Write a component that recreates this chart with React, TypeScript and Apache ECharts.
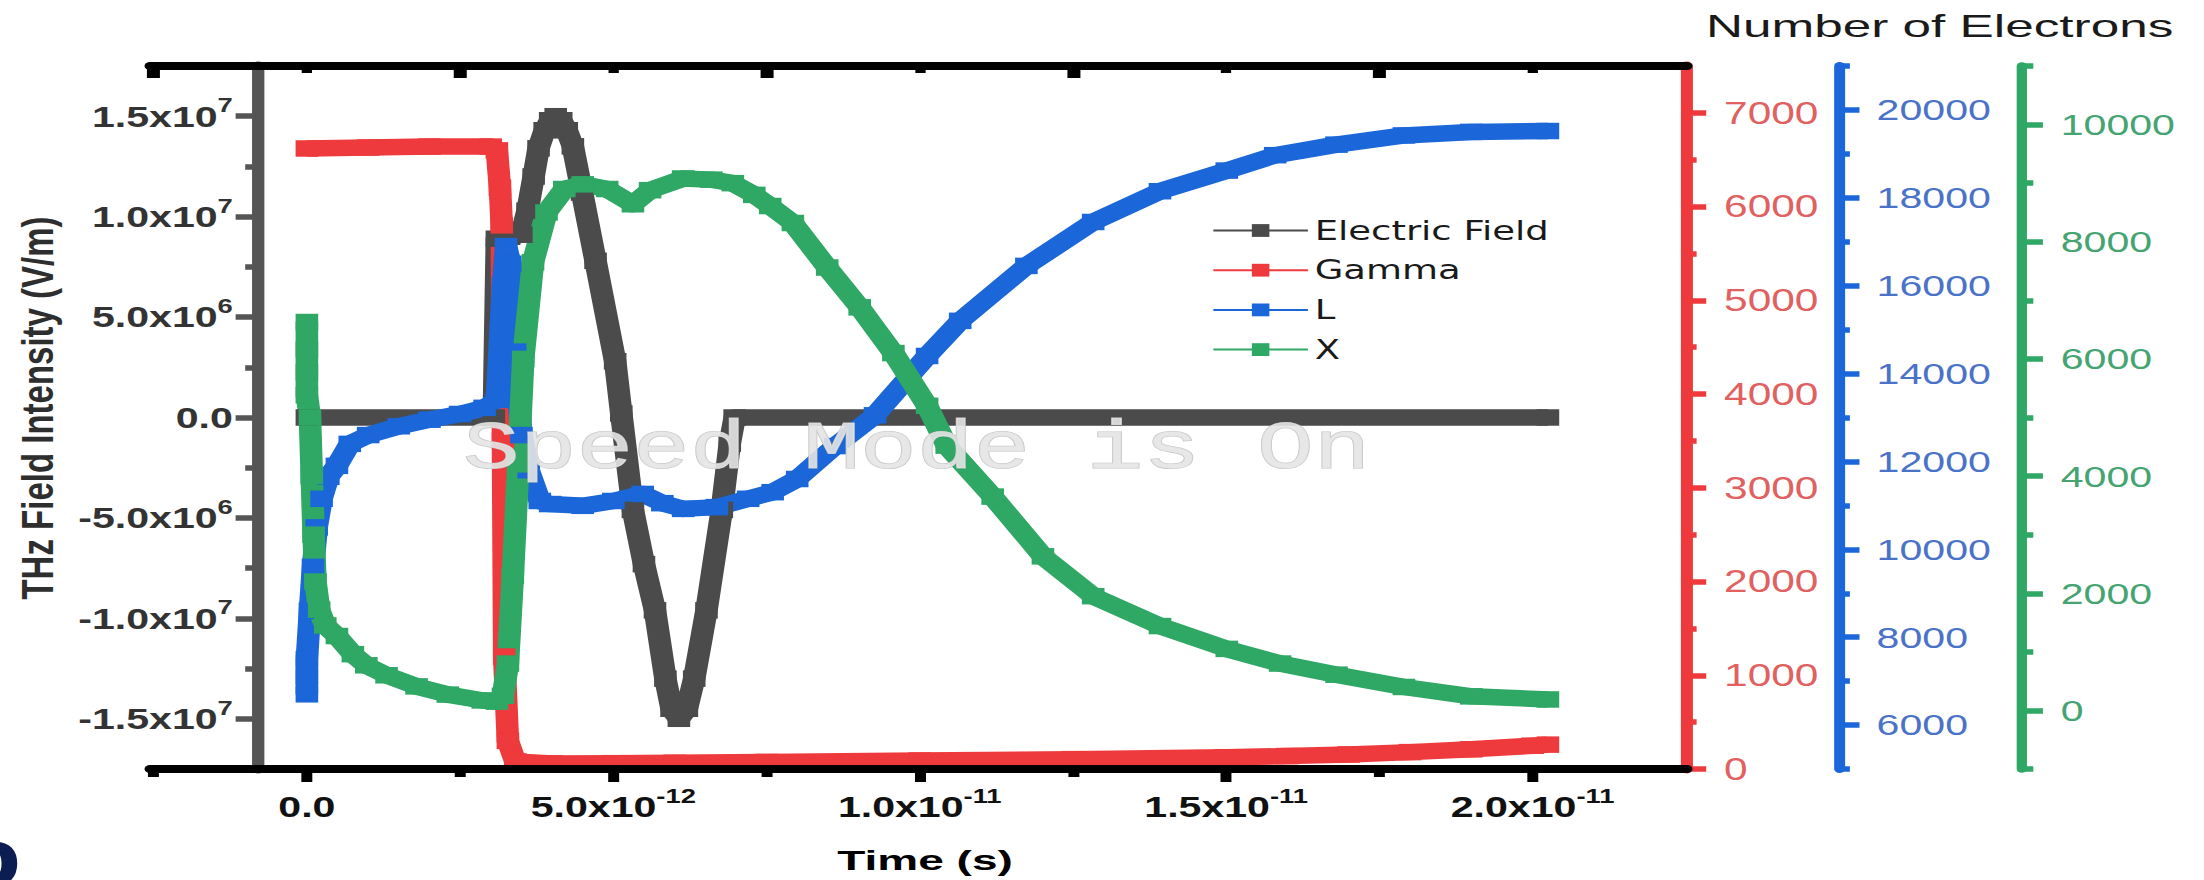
import { useEffect, useRef } from 'react';
import * as echarts from 'echarts';

const CHART_W = 1609;
const CHART_H = 880;
const STRETCH = 2204 / CHART_W;

// ---- data (time in picoseconds) ----
const fieldTime = [0, 3.05, 3.1, 3.3, 3.5, 3.6, 3.7, 3.78, 3.88, 3.97, 4.06, 4.15, 4.24, 4.34, 4.49, 4.71, 5.03, 5.13, 5.32, 5.5, 5.68, 5.85, 5.95, 6.07, 6.2, 6.32, 6.52, 6.77, 6.9, 6.98, 20.25];
const fieldValue = [0, 0, 8.9e6, 9.0e6, 9.1e6, 10.3e6, 12.0e6, 13.4e6, 14.3e6, 14.8e6, 15.0e6, 14.8e6, 14.3e6, 13.5e6, 11.2e6, 7.8e6, 2.8e6, 0.2e6, -4.6e6, -7.3e6, -9.6e6, -13.0e6, -14.5e6, -15.0e6, -14.5e6, -13.0e6, -9.6e6, -4.6e6, -1.3e6, 0, 0];

const gammaTime = [0, 1, 2, 3.0, 3.1, 3.15, 3.18, 3.2, 3.22, 3.28, 3.4, 4, 5, 6, 7.5, 10, 12.5, 15, 16, 17, 18, 19, 20, 20.25];
const gammaValue = [6620, 6630, 6640, 6640, 6600, 6200, 5800, 3500, 1200, 300, 80, 60, 62, 66, 75, 90, 105, 125, 138, 155, 180, 210, 248, 260];

const lTime = [0, 0, 0, 0.05, 0.1, 0.16, 0.24, 0.35, 0.49, 0.7, 1.0, 1.5, 2.0, 2.5, 2.9, 3.1, 3.2, 3.25, 3.32, 3.4, 3.5, 3.62, 3.8, 3.97, 4.5, 5.0, 5.48, 5.8, 6.14, 6.69, 7.2, 7.6, 8.0, 8.62, 9.27, 10.12, 10.66, 11.74, 12.83, 13.92, 15.01, 15.8, 16.8, 17.9, 19.0, 20.25];
const lValue = [6700, 7100, 7500, 8600, 9600, 10500, 11150, 11650, 11900, 12400, 12600, 12800, 12950, 13080, 13220, 13400, 16000, 16900, 16500, 14500, 12600, 11800, 11100, 11030, 10990, 11100, 11260, 11050, 10920, 10960, 11150, 11300, 11600, 12350, 13050, 14400, 15200, 16450, 17450, 18150, 18620, 18970, 19210, 19420, 19500, 19520];

const xPopTime = [0, 0, 0, 0, 0.05, 0.08, 0.11, 0.14, 0.2, 0.3, 0.49, 0.75, 0.97, 1.3, 1.79, 2.3, 2.87, 3.1, 3.2, 3.28, 3.36, 3.45, 3.53, 3.69, 3.91, 4.2, 4.5, 4.9, 5.32, 5.6, 6.14, 6.6, 6.95, 7.3, 7.56, 7.93, 8.49, 9.02, 9.57, 10.12, 10.44, 11.19, 12.01, 12.83, 13.92, 15.01, 15.88, 16.8, 17.9, 19.0, 20.25];
const xPopValue = [6630, 6160, 5770, 5380, 5000, 4000, 3000, 2200, 1720, 1450, 1270, 960, 770, 600, 410, 270, 170, 150, 250, 800, 2300, 4200, 6000, 7650, 8500, 8900, 8980, 8900, 8640, 8880, 9080, 9060, 9000, 8800, 8610, 8320, 7560, 6880, 6100, 5200, 4520, 3650, 2630, 1950, 1440, 1050, 800, 610, 400, 240, 187];

// ---- ticks ----
const timeTickValues = [0, 5, 10, 15, 20];
const timeTickMantissa = ['0.0', '5.0x10', '1.0x10', '1.5x10', '2.0x10'];
const timeTickExponent = ['', '-12', '-11', '-11', '-11'];
const timeMinorTicks = [-2.5, 2.5, 7.5, 12.5, 17.5];

const fieldTickValues = [-1.5e7, -1e7, -5e6, 0, 5e6, 1e7, 1.5e7];
const fieldTickMantissa = ['-1.5x10', '-1.0x10', '-5.0x10', '0.0', '5.0x10', '1.0x10', '1.5x10'];
const fieldTickExponent = ['7', '7', '6', '', '6', '7', '7'];
const fieldMinorTicks = [-1.25e7, -7.5e6, -2.5e6, 2.5e6, 7.5e6, 1.25e7];

const gammaTickValues = [0, 1000, 2000, 3000, 4000, 5000, 6000, 7000];
const gammaMinorTicks = [500, 1500, 2500, 3500, 4500, 5500, 6500];
const lTickValues = [6000, 8000, 10000, 12000, 14000, 16000, 18000, 20000];
const lMinorTicks = [5000, 7000, 9000, 11000, 13000, 15000, 17000, 19000, 21000];
const xPopTickValues = [0, 2000, 4000, 6000, 8000, 10000];
const xPopMinorTicks = [-1000, 1000, 3000, 5000, 7000, 9000, 11000];

const seriesNames = ['Electric Field', 'Gamma', 'L', 'X'];
const seriesColors = ['#4b4b4b', '#ee3a3c', '#1b67d9', '#2fa765'];

const pairs = (ts: number[], vs: number[]) => ts.map((t, i) => [t, vs[i]]);

const sciFormatter = (values: number[], mant: string[], exp: string[]) => (v: number) => {
  const i = values.findIndex((x) => Math.abs(x - v) <= Math.abs(x) * 1e-6 + 1e-9);
  if (i < 0) return '';
  return exp[i] ? `{m|${mant[i]}}{s|${exp[i]}}` : `{m|${mant[i]}}`;
};

const richFor = (color: string) => ({
  m: { fontFamily: 'Liberation Sans', fontWeight: 'bold', fontSize: 30, lineHeight: 42, color },
  s: { fontFamily: 'Liberation Sans', fontWeight: 'bold', fontSize: 20, lineHeight: 20, verticalAlign: 'top', color },
});

const plainFormatter = (v: number) => String(Math.round(v));

function buildOption() {
  const xMin = -2.56;
  const xMax = 22.52;
  const xCommon = { type: 'value', min: xMin, max: xMax, splitLine: { show: false }, z: 4 };

  const xAxis = [
    {
      ...xCommon,
      position: 'bottom',
      axisLine: { onZero: false, lineStyle: { color: '#000', width: 8 } },
      axisTick: { customValues: timeTickValues, length: 13, lineStyle: { color: '#000', width: 8 } },
      axisLabel: {
        customValues: timeTickValues,
        formatter: sciFormatter(timeTickValues, timeTickMantissa, timeTickExponent),
        rich: richFor('#111'),
        margin: 17,
      },
    },
    {
      ...xCommon,
      position: 'bottom',
      axisLine: { show: false, onZero: false },
      axisTick: { customValues: timeMinorTicks, length: 8, lineStyle: { color: '#000', width: 8 } },
      axisLabel: { show: false },
    },
    {
      ...xCommon,
      position: 'top',
      axisLine: { onZero: false, lineStyle: { color: '#000', width: 8 } },
      axisTick: { inside: true, customValues: timeMinorTicks, length: 12, lineStyle: { color: '#000', width: 9.5 } },
      axisLabel: { show: false },
    },
    {
      ...xCommon,
      position: 'top',
      axisLine: { show: false, onZero: false },
      axisTick: { inside: true, customValues: timeTickValues, length: 7, lineStyle: { color: '#000', width: 7.5 } },
      axisLabel: { show: false },
    },
  ];

  const yAxisPair = (
    min: number, max: number, position: string, offset: number, color: string, lineW: number,
    major: number[], minor: number[], majorLen: number, minorLen: number, label: any,
  ) => [
    {
      type: 'value', min, max, position, offset, z: 3,
      splitLine: { show: false },
      axisLine: { show: true, onZero: false, lineStyle: { color, width: lineW } },
      axisTick: { customValues: major, length: majorLen, lineStyle: { color, width: 5.5 } },
      axisLabel: label,
    },
    {
      type: 'value', min, max, position, offset, z: 3,
      splitLine: { show: false },
      axisLine: { show: false, onZero: false },
      axisTick: { customValues: minor, length: minorLen, lineStyle: { color, width: 5.5 } },
      axisLabel: { show: false },
    },
  ];

  const yAxis = [
    ...yAxisPair(-1.75e7, 1.75e7, 'left', -78.5, '#555', 9, fieldTickValues, fieldMinorTicks, 16, 9, {
      customValues: fieldTickValues,
      formatter: sciFormatter(fieldTickValues, fieldTickMantissa, fieldTickExponent),
      rich: richFor('#333'),
      margin: 18,
    }),
    ...yAxisPair(0, 7500, 'right', 0, '#ee3a3c', 8.8, gammaTickValues, gammaMinorTicks, 14, 7, {
      customValues: gammaTickValues, formatter: plainFormatter,
      color: '#e0615f', fontFamily: 'Liberation Sans', fontSize: 31, margin: 27,
    }),
    ...yAxisPair(5000, 21000, 'right', 110.9, '#1b67d9', 8, lTickValues, lMinorTicks, 15, 8, {
      customValues: lTickValues, formatter: plainFormatter,
      color: '#4a73c8', fontFamily: 'Liberation Sans', fontSize: 30, margin: 27.5,
    }),
    ...yAxisPair(-1000, 11000, 'right', 243.8, '#2fa765', 7.5, xPopTickValues, xPopMinorTicks, 16, 9, {
      customValues: xPopTickValues, formatter: plainFormatter,
      color: '#45a472', fontFamily: 'Liberation Sans', fontSize: 30, margin: 29,
    }),
  ];

  const datasets = [
    pairs(fieldTime, fieldValue),
    pairs(gammaTime, gammaValue),
    pairs(lTime, lValue),
    pairs(xPopTime, xPopValue),
  ];
  const yIndex = [0, 2, 4, 6];

  const series = seriesNames.map((name, i) => ({
    name,
    type: 'line',
    xAxisIndex: 0,
    yAxisIndex: yIndex[i],
    data: datasets[i],
    symbol: 'rect',
    symbolSize: 16.5,
    showSymbol: true,
    lineStyle: { color: seriesColors[i], width: 16.5, join: 'round' },
    itemStyle: { color: seriesColors[i] },
    z: 2,
    silent: true,
  }));

  const titleFont = 'Liberation Sans';
  return {
    animation: false,
    backgroundColor: '#ffffff',
    grid: { left: 109.5, right: CHART_W - 1231.6, top: 66, bottom: CHART_H - 769, containLabel: false, outerBoundsMode: 'none' },
    legend: {
      data: seriesNames,
      orient: 'vertical',
      left: 884.8,
      top: 217,
      padding: 0,
      itemWidth: 69,
      itemHeight: 16,
      itemGap: 12.7,
      lineStyle: { width: 2 },
      textStyle: { fontFamily: 'DejaVu Sans', fontSize: 27, color: '#1a1a1a', lineHeight: 20 },
    },
    xAxis,
    yAxis,
    series,
    graphic: [
      {
        type: 'text', x: 27, y: 408, rotation: Math.PI / 2,
        style: { text: 'THz Field Intensity (V/m)', fontFamily: titleFont, fontWeight: 'bold', fontSize: 33, fill: '#2e2e2e', align: 'center', verticalAlign: 'middle', textAlign: 'center', textVerticalAlign: 'middle' },
      },
      {
        type: 'text', x: 675.3, y: 860, scaleX: 1.2,
        style: { text: 'Time (s)', fontFamily: titleFont, fontWeight: 'bold', fontSize: 28, fill: '#000', align: 'center', verticalAlign: 'middle', textAlign: 'center', textVerticalAlign: 'middle' },
      },
      {
        type: 'text', x: 1416, y: 26, scaleX: 1.17,
        style: { text: 'Number of Electrons', fontFamily: titleFont, fontSize: 32, fill: '#1a1a1a', align: 'center', verticalAlign: 'middle', textAlign: 'center', textVerticalAlign: 'middle' },
      },
      {
        type: 'text', x: 338, y: 450, z: 100,
        style: { text: 'Speed Mode is On', fontFamily: 'Liberation Mono', fontSize: 69, fill: 'rgba(228,228,228,0.9)', stroke: '#c6c6c6', lineWidth: 1.2, align: 'left', verticalAlign: 'middle', textAlign: 'left', textVerticalAlign: 'middle' },
      },
      {
        type: 'text', x: -33, y: 897,
        style: { text: 'b', fontFamily: titleFont, fontWeight: 'bold', fontSize: 80, fill: '#0b1d51', align: 'left', verticalAlign: 'bottom', textAlign: 'left', textVerticalAlign: 'bottom' },
      },
    ],
  };
}

export default function App() {
  const ref = useRef<HTMLDivElement>(null);
  useEffect(() => {
    if (!ref.current) return;
    const chart = echarts.init(ref.current, null, { renderer: 'svg' });
    chart.setOption(buildOption() as any);
    return () => chart.dispose();
  }, []);
  return (
    <div
      ref={ref}
      style={{
        position: 'absolute',
        left: 0,
        top: 0,
        width: CHART_W,
        height: CHART_H,
        transform: `scaleX(${STRETCH})`,
        transformOrigin: '0 0',
        background: '#fff',
      }}
    />
  );
}
